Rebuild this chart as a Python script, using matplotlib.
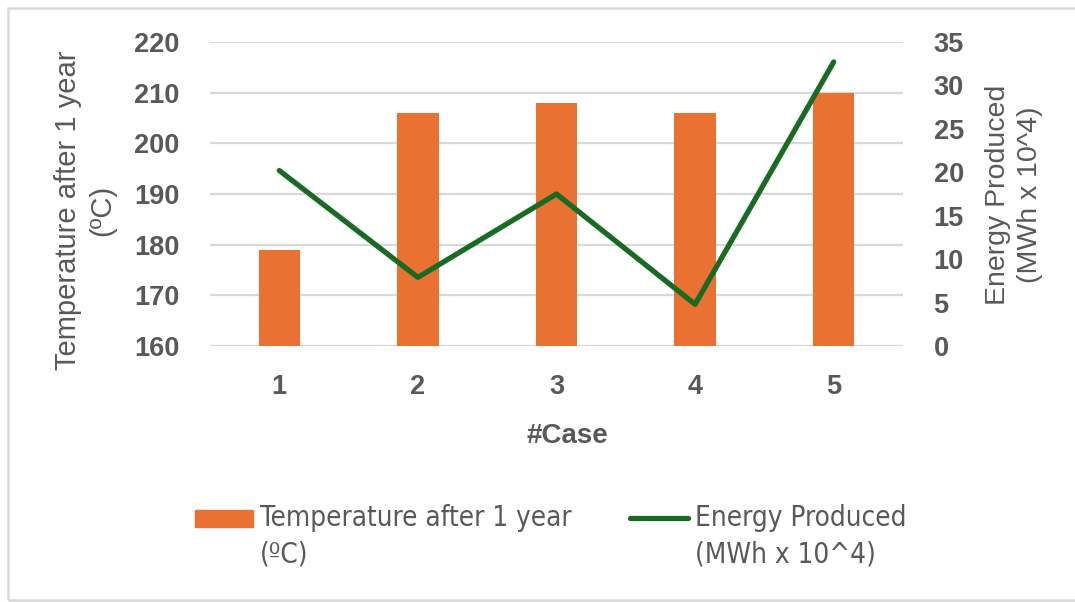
import matplotlib.pyplot as plt
from matplotlib.patches import Rectangle
from matplotlib.lines import Line2D
import numpy as np

# case data
cases = ['1', '2', '3', '4', '5']
temperature = [179, 206, 208, 206, 210]       # degC after 1 year
energy = [20.2, 7.9, 17.5, 4.8, 32.7]          # MWh x 10^4

orange = '#E97132'
green = '#196B24'
grey = '#595959'
grid_c = '#D9D9D9'

plt.rcParams['font.family'] = ['Liberation Sans', 'DejaVu Sans']

W, H = 1075, 602
fig = plt.figure(figsize=(W / 100, H / 100), dpi=100)

def fx(px):
    return px / W

def fy(py):
    return 1 - py / H

ax = fig.add_axes([fx(210), fy(346), fx(903) - fx(210), fy(42) - fy(346)])
x = np.arange(len(cases))

ax.bar(x, temperature, width=0.3, color=orange, zorder=2)
ax.set_ylim(160, 220)
ax.set_yticks(np.arange(160, 221, 10))
ax.set_xlim(-0.5, len(cases) - 0.5)
ax.set_xticks(x)
ax.set_xticklabels(cases)
ax.grid(axis='y', color=grid_c, linewidth=1.6, zorder=0)
ax.set_axisbelow(True)
for s in ax.spines.values():
    s.set_visible(False)
ax.tick_params(axis='both', length=0, labelsize=19.5, labelcolor=grey)
ax.tick_params(axis='y', pad=22)
ax.tick_params(axis='x', pad=20)
for lab in ax.get_xticklabels() + ax.get_yticklabels():
    lab.set_fontweight('bold')

ax2 = ax.twinx()
ax2.plot(x, energy, color=green, linewidth=3.8, solid_capstyle='round', zorder=3)
ax2.set_ylim(0, 35)
ax2.set_yticks(np.arange(0, 36, 5))
for s in ax2.spines.values():
    s.set_visible(False)
ax2.tick_params(axis='y', length=0, labelsize=19.5, labelcolor=grey, pad=22)
for lab in ax2.get_yticklabels():
    lab.set_fontweight('bold')

# axis titles
fig.text(fx(567), fy(436), '#Case', ha='center', va='center', fontsize=20,
         fontweight='bold', color=grey)
fig.text(fx(85), fy(210), 'Temperature after 1 year\n(ºC)', rotation=90,
         ha='center', va='center', multialignment='center', fontsize=21,
         color=grey, linespacing=1.3)
fig.text(fx(1014), fy(195), 'Energy Produced\n(MWh x 10^4)', rotation=90,
         ha='center', va='center', multialignment='center', fontsize=20.5,
         color=grey, linespacing=1.3)

# legend
leg_kw = dict(ha='left', va='center', fontsize=20, color=grey,
              family=['DejaVu Sans'], fontstretch='condensed')
fig.patches.append(Rectangle((fx(195), fy(527)), fx(253) - fx(195), fy(510) - fy(527),
                             transform=fig.transFigure, color=orange))
fig.text(fx(260), fy(518), 'Temperature after 1 year', **leg_kw)
fig.text(fx(260), fy(555), '(ºC)', **leg_kw)
fig.lines.append(Line2D([fx(630), fx(688)], [fy(518), fy(518)], transform=fig.transFigure,
                        color=green, linewidth=3.8, solid_capstyle='round'))
fig.text(fx(695), fy(518), 'Energy Produced', **leg_kw)
fig.text(fx(695), fy(555), '(MWh x 10^4)', **leg_kw)

# outer frame
fig.patches.append(Rectangle((fx(8), fy(600)), fx(1085) - fx(8), fy(8) - fy(600),
                             transform=fig.transFigure, fill=False,
                             edgecolor=grid_c, linewidth=1.8))

fig.savefig('out.png', dpi=100)
